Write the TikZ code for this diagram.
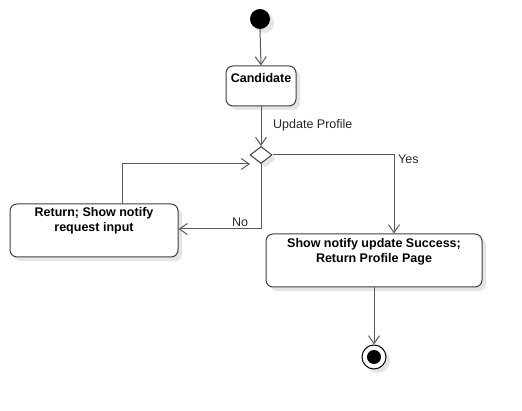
\documentclass[tikz,border=0pt]{standalone}
\usepackage{fontspec}
\setmainfont{Liberation Sans}
\usetikzlibrary{arrows.meta,shapes.geometric,shadows}
\begin{document}
\begin{tikzpicture}[x=1pt,y=-1pt,
  every node/.style={font=\fontsize{12.5}{14.5}\selectfont},
  sh/.style={drop shadow={shadow xshift=4pt,shadow yshift=-4pt,fill=black!10,opacity=1}},
  actbox/.style={draw=black!75,line width=1pt,rounded corners=7pt,fill=white,sh,inner sep=0pt},
  boxtext/.style={font=\bfseries\fontsize{12.5}{14.5}\selectfont,align=center,inner sep=0pt},
  flow/.style={draw=black!65,line width=1pt,-{Straight Barb[length=8pt,width=11pt,line width=1pt]}},
  lbl/.style={text=black!85,inner sep=0pt}]
\useasboundingbox (0,0) rectangle (522,411);
% start
\node[circle,fill=black,minimum size=20pt,inner sep=0pt,sh] (start) at (260,19) {};
% candidate
\node[actbox,minimum width=70pt,minimum height=40pt] (cand) at (261,86) {};
\node[boxtext] (candt) at (261,78) {Candidate};
% decision
\node[diamond,draw=black!75,line width=1pt,fill=white,minimum width=22pt,minimum height=17pt,inner sep=0pt,sh] (dec) at (261,155) {};
% return box
\node[actbox,minimum width=168pt,minimum height=53pt] (ret) at (94,230.5) {};
\node[boxtext] (rett) at (94,221) {Return; Show notify\\request input};
% show box
\node[actbox,minimum width=216pt,minimum height=53pt] (show) at (374,260.5) {};
\node[boxtext] (showt) at (374,252) {Show notify update Success;\\Return Profile Page};
% end
\node[circle,draw=black,line width=1pt,fill=white,minimum size=24pt,inner sep=0pt,sh] (end) at (374,357) {};
\node[circle,fill=black,minimum size=14pt,inner sep=0pt] (endin) at (end) {};
% connectors
\draw[flow] (start.south) -- (cand.north);
\draw[flow] (cand.south) -- (dec.north);
\node[lbl,anchor=west] (upd) at (273,125) {Update Profile};
\coordinate (yescorner) at (394,155);
\draw[flow] (dec.east) -- (yescorner) -- (yescorner |- show.north);
\node[lbl,anchor=west] (yes) at (398,159) {Yes};
\coordinate (nocorner) at (261,229);
\draw[flow] (dec.south) -- (nocorner) -- (nocorner -| ret.east);
\node[lbl] (no) at (240,222) {No};
\coordinate (loopstart) at (122,204);
\coordinate (loopcorner) at (122,164);
\coordinate (loopend) at (250,164);
\draw[flow] (loopstart) -- (loopcorner) -- (loopend);
\draw[flow] (show.south) -- (end.north);
\end{tikzpicture}
\end{document}
